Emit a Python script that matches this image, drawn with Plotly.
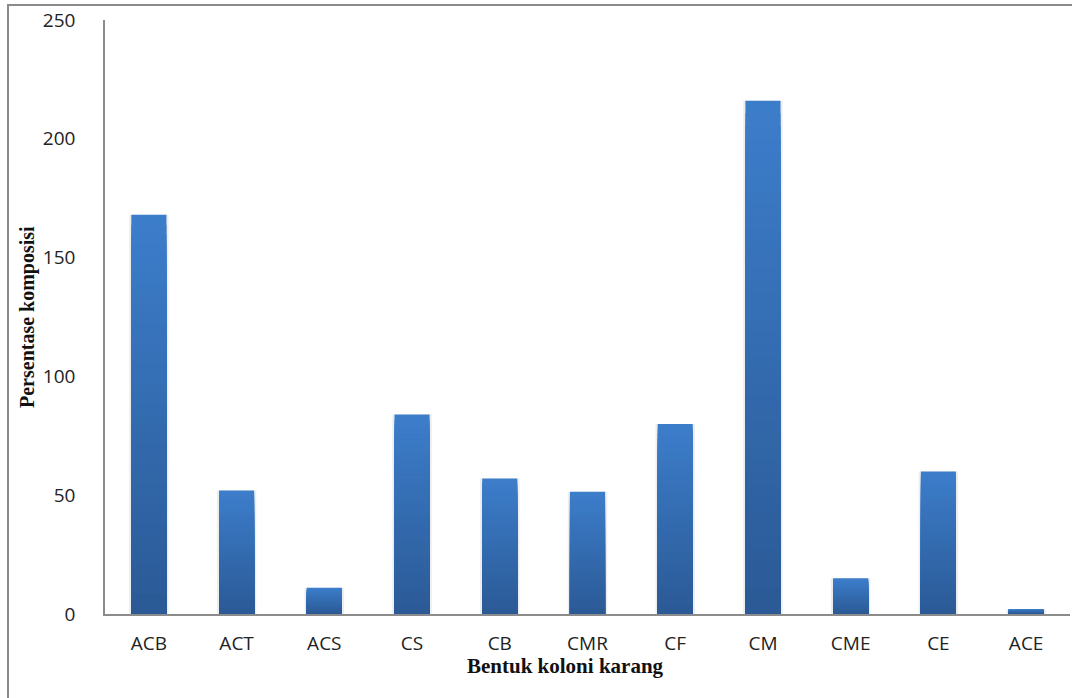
import plotly.graph_objects as go

# Coral colony growth forms and their composition percentages
categories = ["ACB", "ACT", "ACS", "CS", "CB", "CMR", "CF", "CM", "CME", "CE", "ACE"]
values = [168, 52, 11, 84, 57, 51.5, 80, 216, 15, 60, 2]
y_ticks = [0, 50, 100, 150, 200, 250]

TOP_RGB = (60, 125, 202)
BOTTOM_RGB = (43, 90, 150)
STEPS = 40

fig = go.Figure()

# soft shadow behind each bar
fig.add_trace(go.Bar(
    x=categories, y=values, width=0.45,
    marker=dict(color="rgba(0,0,0,0.07)", line=dict(width=0)),
    hoverinfo="skip", showlegend=False,
))

# vertical gradient: overlapping bars, each shorter and darker than the last
for k in range(STEPS):
    t = k / (STEPS - 1)
    r, g, b = (round(TOP_RGB[i] + (BOTTOM_RGB[i] - TOP_RGB[i]) * t) for i in range(3))
    frac = (STEPS - k) / STEPS
    fig.add_trace(go.Bar(
        x=categories, y=[v * frac for v in values], width=0.4,
        marker=dict(color=f"rgb({r},{g},{b})", line=dict(width=0)),
        hoverinfo="skip" if k else None,
        customdata=values,
        hovertemplate="%{x}: %{customdata}<extra></extra>",
        showlegend=False,
    ))

tick_font = dict(family="Open Sans, sans-serif", size=19, color="#222222")
title_font = "Liberation Serif, Times New Roman, serif"

fig.update_layout(
    width=1072, height=698,
    margin=dict(l=105, r=2, t=20, b=84),
    paper_bgcolor="white", plot_bgcolor="white",
    barmode="overlay",
    showlegend=False,
    font=dict(family="Open Sans, sans-serif", size=19, color="#333333"),
    xaxis=dict(
        type="category", categoryorder="array", categoryarray=categories,
        showline=True, linecolor="#8c8c8c", linewidth=1.5,
        ticks="", showgrid=False, zeroline=False,
        tickfont=tick_font,
        ticklabelstandoff=11,
    ),
    yaxis=dict(
        range=[0, 250], tickvals=y_ticks,
        showline=True, linecolor="#8c8c8c", linewidth=1.5,
        ticks="", showgrid=False, zeroline=False,
        tickfont=tick_font,
        ticklabelstandoff=24,
    ),
    shapes=[
        # outer chart frame
        dict(type="rect", xref="paper", yref="paper",
             x0=(8 - 105) / 965, x1=1.2, y0=-0.3, y1=(614 - 5) / 594,
             line=dict(color="#8a8a8a", width=2), layer="below"),
    ],
    annotations=[
        dict(text="<b>Bentuk koloni karang</b>", xref="paper", yref="paper",
             x=(565 - 105) / 965, y=(614 - 666) / 594,
             showarrow=False, xanchor="center", yanchor="middle",
             font=dict(family=title_font, size=21, color="#111111")),
        dict(text="<b>Persentase komposisi</b>", xref="paper", yref="paper",
             x=(27 - 105) / 965, y=0.5, textangle=-90,
             showarrow=False, xanchor="center", yanchor="middle",
             font=dict(family=title_font, size=20, color="#111111")),
    ],
)

fig.write_html("out.html")
